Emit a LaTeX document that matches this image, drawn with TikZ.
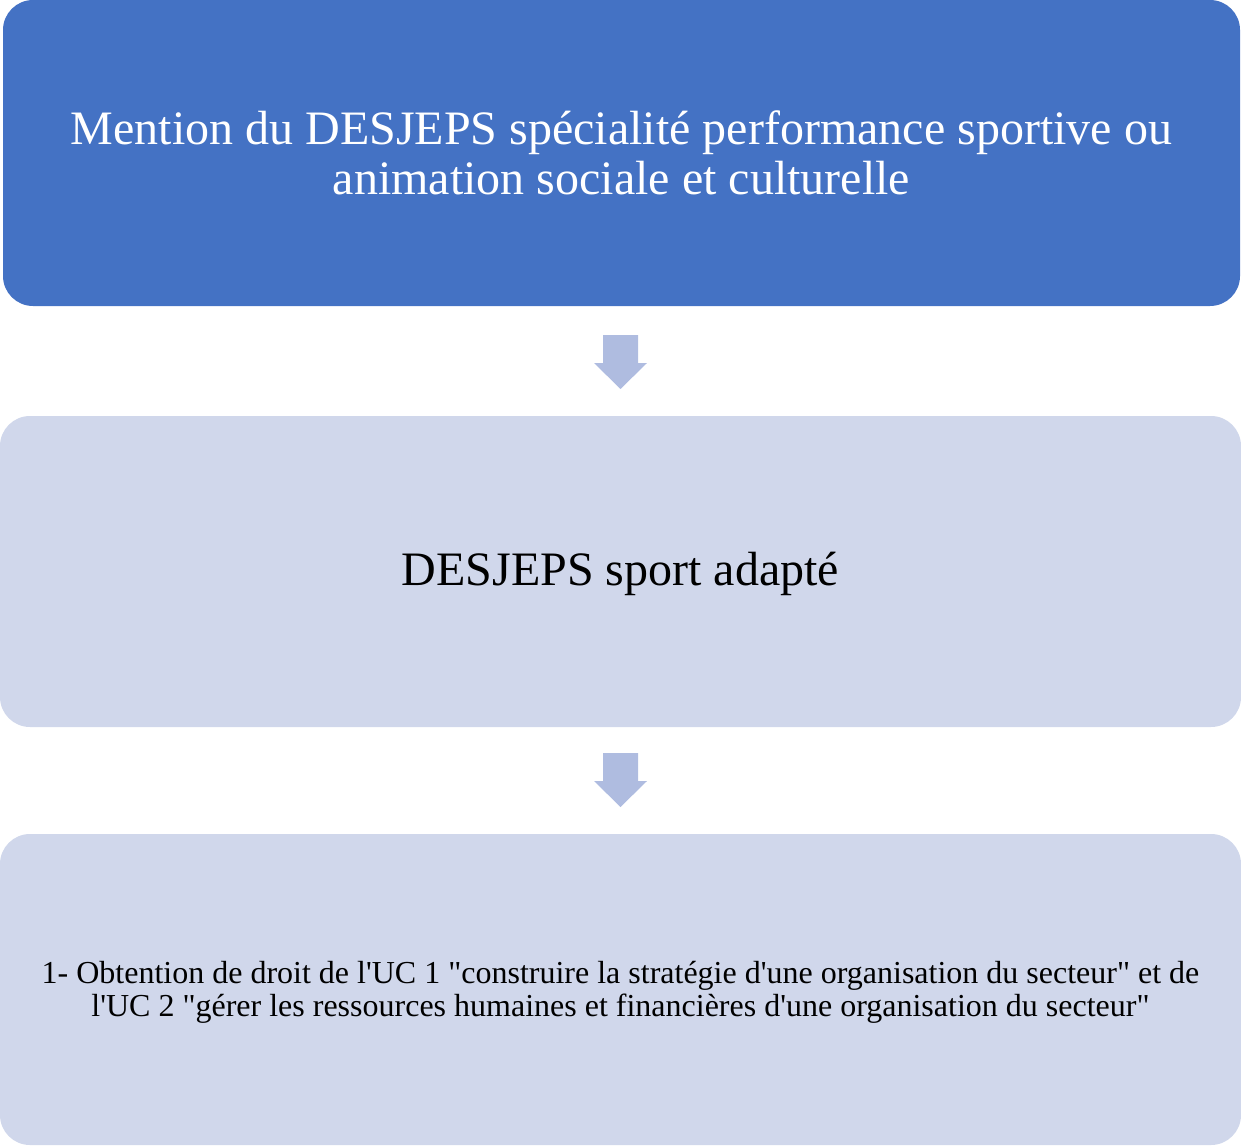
\documentclass[tikz,border=0pt]{standalone}
\usepackage{fontspec}
\setmainfont[Ligatures=TeXOff]{Liberation Serif}
\definecolor{darkblue}{HTML}{4472C4}
\definecolor{paleblue}{HTML}{D0D7EB}
\definecolor{arrowblue}{HTML}{AFBCE0}
\tikzset{
  stagebox/.style={rounded corners=15pt, inner sep=0pt, align=center},
  bigtext/.style={font=\fontsize{24}{25}\selectfont},
  smalltext/.style={font=\fontsize{16}{16.5}\selectfont},
  blockarrow/.style={fill=arrowblue, draw=none}
}
\begin{document}
\begin{tikzpicture}[x=0.5pt, y=-0.5pt]
  \useasboundingbox (0,0) rectangle (1241,1145);

  % boxes
  \fill [darkblue, rounded corners=15pt] (3,0) rectangle (1240,306);
  \node [stagebox, bigtext, text=white] (mention) at (621.5,153)
    {Mention du DESJEPS spécialité performance sportive ou\\animation sociale et culturelle};

  \fill [paleblue, rounded corners=15pt] (0,416) rectangle (1241,727);
  \node [stagebox, bigtext] (sport) at (620.5,574) {DESJEPS sport adapté};

  \fill [paleblue, rounded corners=15pt] (0,834) rectangle (1241,1145);
  \node [stagebox, smalltext] (uc) at (620.5,992)
    {1- Obtention de droit de l'UC 1 "construire la stratégie d'une organisation du secteur" et de\\l'UC 2 "gérer les ressources humaines et financières d'une organisation du secteur"};

  % arrows
  \foreach \y/\name in {335/arrA, 753/arrB} {
    \coordinate (\name) at (620.5,\y);
    \fill [blockarrow] (\name) ++(-17.5,0) -- ++(35,0) -- ++(0,28) -- ++(9,0)
      -- ++(-26.5,26) -- ++(-26.5,-26) -- ++(9,0) -- cycle;
  }
\end{tikzpicture}
\end{document}
